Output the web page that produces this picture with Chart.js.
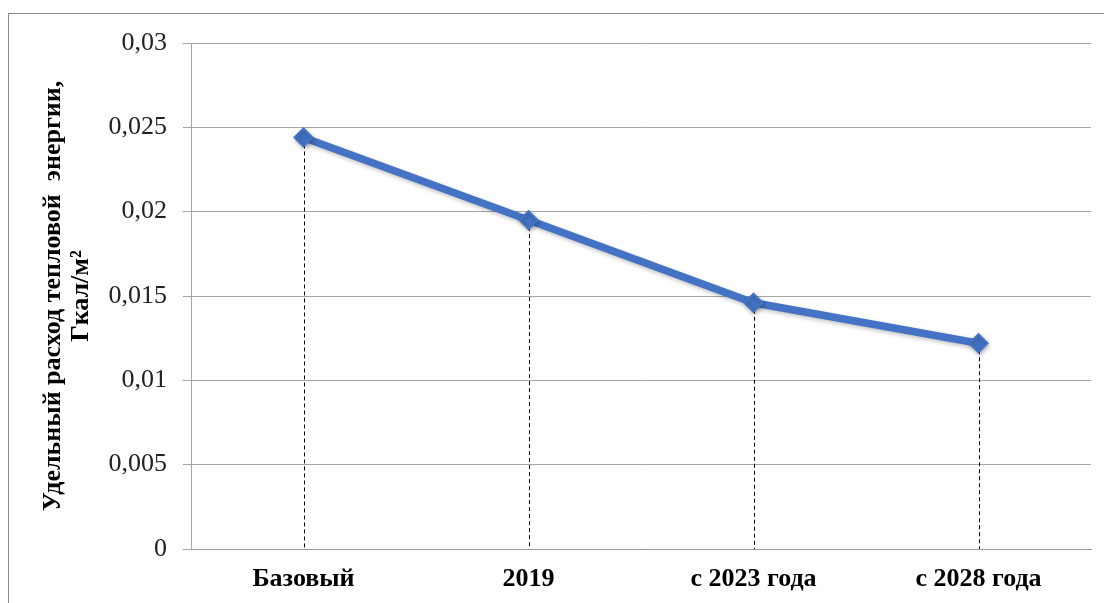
<!DOCTYPE html>
<html>
<head>
<meta charset="utf-8">
<script src="https://cdn.jsdelivr.net/npm/chart.js@4/dist/chart.umd.min.js"></script>
<style>
  html, body { margin: 0; padding: 0; background: #fff; }
  #wrap { width: 1104px; height: 603px; }
</style>
</head>
<body>
<div id="wrap"><canvas id="c" width="1104" height="603"></canvas></div>
<script>
// Categories and values of specific heat consumption
const categories = ['Базовый', '2019', 'с 2023 года', 'с 2028 года'];
const heatUse = [0.0244, 0.0195, 0.0146, 0.0122];
const yTickLabels = ['0', '0,005', '0,01', '0,015', '0,02', '0,025', '0,03'];
const yTitle = ['Удельный расход тепловой  энергии,', 'Гкал/м²'];

const SERIF = '"Liberation Serif", "Times New Roman", serif';

// White background and a thin frame around the chart
const framePlugin = {
  id: 'frame',
  beforeDraw(chart) {
    const ctx = chart.ctx;
    ctx.save();
    ctx.fillStyle = '#fff';
    ctx.fillRect(0, 0, chart.width, chart.height);
    ctx.strokeStyle = '#8c8c8c';
    ctx.lineWidth = 1;
    ctx.strokeRect(8.5, 13.5, chart.width + 20, chart.height + 20);
    ctx.restore();
  }
};

// Dashed drop lines from each point down to the category axis
const dropLines = {
  id: 'dropLines',
  beforeDatasetsDraw(chart) {
    const ctx = chart.ctx;
    const meta = chart.getDatasetMeta(0);
    const yBase = chart.scales.y.getPixelForValue(0);
    ctx.save();
    ctx.strokeStyle = '#000';
    ctx.lineWidth = 1;
    ctx.setLineDash([4, 3]);
    meta.data.forEach(pt => {
      const x = Math.round(pt.x) + 0.5;
      ctx.beginPath();
      ctx.moveTo(x, pt.y);
      ctx.lineTo(x, yBase);
      ctx.stroke();
    });
    ctx.restore();
  }
};

// Soft shadow under the line and markers
const lineShadow = {
  id: 'lineShadow',
  beforeDatasetDraw(chart) {
    const ctx = chart.ctx;
    ctx.save();
    ctx.shadowColor = 'rgba(0,0,0,0.25)';
    ctx.shadowBlur = 4;
    ctx.shadowOffsetX = 1;
    ctx.shadowOffsetY = 2;
  },
  afterDatasetDraw(chart) {
    chart.ctx.restore();
  }
};

new Chart(document.getElementById('c'), {
  type: 'line',
  data: {
    labels: categories,
    datasets: [{
      data: heatUse,
      borderColor: '#4472C4',
      backgroundColor: '#4472C4',
      borderWidth: 7.5,
      tension: 0,
      pointStyle: 'rectRot',
      pointRadius: 9,
      pointBorderWidth: 2,
      pointBorderColor: '#4472C4',
      pointBackgroundColor: '#4472C4',
      fill: false
    }]
  },
  options: {
    responsive: false,
    animation: false,
    layout: { padding: { left: 8, top: 43, right: 13, bottom: 0 } },
    plugins: {
      legend: { display: false },
      tooltip: { enabled: false }
    },
    scales: {
      x: {
        type: 'category',
        offset: true,
        grid: { display: false, drawTicks: false },
        border: { display: true, color: '#999', width: 1 },
        ticks: {
          color: '#000',
          padding: 15,
          maxRotation: 0,
          font: { family: SERIF, size: 26, weight: 'bold' }
        },
        afterFit(s) { s.height = 54; }
      },
      y: {
        min: 0,
        max: 0.03,
        grid: { color: '#a6a6a6', lineWidth: 1, tickLength: 8, drawTicks: true },
        border: { display: true, color: '#a6a6a6', width: 1 },
        ticks: {
          stepSize: 0.005,
          color: '#222',
          padding: 16,
          font: { family: SERIF, size: 26 },
          callback: (v, i) => yTickLabels[i]
        },
        title: {
          display: true,
          text: yTitle,
          color: '#000',
          padding: { top: 31, bottom: 0 },
          font: { family: SERIF, size: 26, weight: 'bold', lineHeight: 1.08 }
        },
        afterFit(s) { s.width = 183; }
      }
    }
  },
  plugins: [framePlugin, dropLines, lineShadow]
});
</script>
</body>
</html>
